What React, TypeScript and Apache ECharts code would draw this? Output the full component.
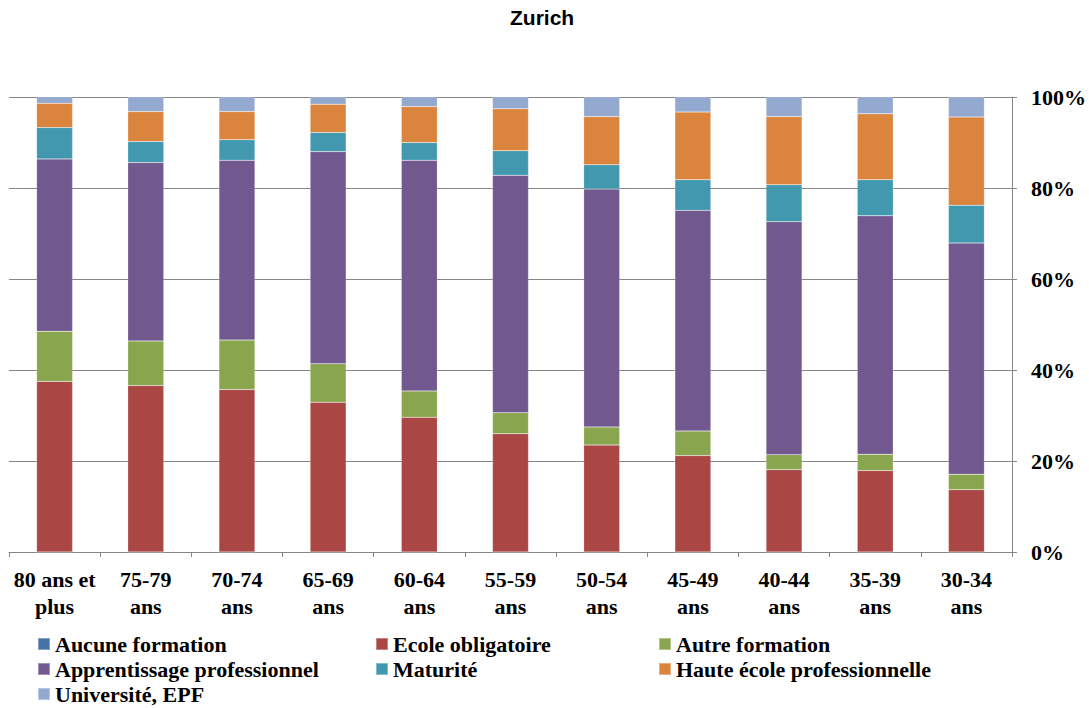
import React, { useEffect, useRef } from "react";
import * as echarts from "echarts";

const categories = [
  "80 ans et\nplus", "75-79\nans", "70-74\nans", "65-69\nans", "60-64\nans", "55-59\nans",
  "50-54\nans", "45-49\nans", "40-44\nans", "35-39\nans", "30-34\nans",
];
const seriesNames = [
  "Aucune formation", "Ecole obligatoire", "Autre formation", "Apprentissage professionnel",
  "Maturité", "Haute école professionnelle", "Université, EPF",
];
const aucune = [0, 0, 0, 0, 0, 0, 0, 0, 0, 0, 0];
const ecole = [37.5, 36.6, 35.7, 32.9, 29.6, 26.0, 23.5, 21.2, 18.1, 17.9, 13.7];
const autre = [11.0, 9.8, 10.9, 8.5, 5.8, 4.6, 4.0, 5.4, 3.3, 3.6, 3.4];
const apprentissage = [37.9, 39.2, 39.5, 46.6, 50.7, 52.2, 52.3, 48.5, 51.2, 52.4, 50.8];
const maturite = [6.9, 4.6, 4.5, 4.2, 3.9, 5.4, 5.3, 6.7, 8.1, 7.9, 8.3];
const hauteEcole = [5.3, 6.6, 6.2, 6.2, 7.9, 9.2, 10.6, 14.9, 15.0, 14.5, 19.4];
const universite = [1.4, 3.2, 3.2, 1.6, 2.1, 2.6, 4.3, 3.3, 4.3, 3.7, 4.4];
const yTicks = { min: 0, max: 100, interval: 20 };

const colors = ["#4572A7", "#AA4643", "#89A54E", "#71588F", "#4198AF", "#DB843D", "#93A9CF"];
const seriesData = [aucune, ecole, autre, apprentissage, maturite, hauteEcole, universite];

const serif = "Liberation Serif";

export default function App() {
  const ref = useRef<HTMLDivElement>(null);
  useEffect(() => {
    if (!ref.current) return;
    const chart = echarts.init(ref.current, undefined, { renderer: "svg" });
    const legendText = { fontFamily: serif, fontWeight: "bold" as const, fontSize: 22, color: "#000", lineHeight: 22 };
    const mkLegend = (names: string[], left: number) => ({
      data: names,
      orient: "vertical" as const,
      left,
      top: 633,
      padding: 0,
      itemGap: 3,
      itemWidth: 12,
      itemHeight: 12,
      icon: "rect",
      textStyle: legendText,
      selectedMode: false,
    });
    chart.setOption({
      animation: false,
      color: colors,
      title: {
        text: "Zurich",
        left: 510,
        top: 7,
        padding: 0,
        textStyle: { fontFamily: "Liberation Sans", fontWeight: "bold", fontSize: 21, color: "#000" },
      },
      legend: [
        mkLegend([seriesNames[0], seriesNames[3], seriesNames[6]], 37),
        mkLegend([seriesNames[1], seriesNames[4]], 375),
        mkLegend([seriesNames[2], seriesNames[5]], 658),
      ],
      grid: { left: 9, right: 77, top: 97, bottom: 156, containLabel: false },
      xAxis: {
        type: "category",
        data: categories,
        axisLine: { show: true, lineStyle: { color: "#868686", width: 1 } },
        axisTick: { show: true, length: 5, lineStyle: { color: "#868686" } },
        axisLabel: {
          interval: 0,
          margin: 14,
          fontFamily: serif,
          fontWeight: "bold",
          fontSize: 22,
          lineHeight: 27,
          color: "#000",
        },
      },
      yAxis: {
        type: "value",
        position: "right",
        min: yTicks.min,
        max: yTicks.max,
        interval: yTicks.interval,
        axisLine: { show: true, lineStyle: { color: "#868686", width: 1 } },
        axisTick: { show: true, length: 5, lineStyle: { color: "#868686" } },
        splitLine: { show: true, lineStyle: { color: "#868686", width: 1 } },
        axisLabel: {
          formatter: "{value}%",
          margin: 19,
          fontFamily: serif,
          fontWeight: "bold",
          fontSize: 22,
          color: "#000",
        },
      },
      series: seriesNames.map((name, i) => ({
        name,
        type: "bar",
        stack: "total",
        barWidth: 36,
        data: seriesData[i],
        itemStyle: { color: colors[i], borderColor: "rgba(255,255,255,0.35)", borderWidth: 0.5 },
      })),
    });
    return () => chart.dispose();
  }, []);
  return (
    <div
      ref={ref}
      style={{ position: "fixed", left: 0, top: 0, width: 1089, height: 708, background: "#fff" }}
    />
  );
}
